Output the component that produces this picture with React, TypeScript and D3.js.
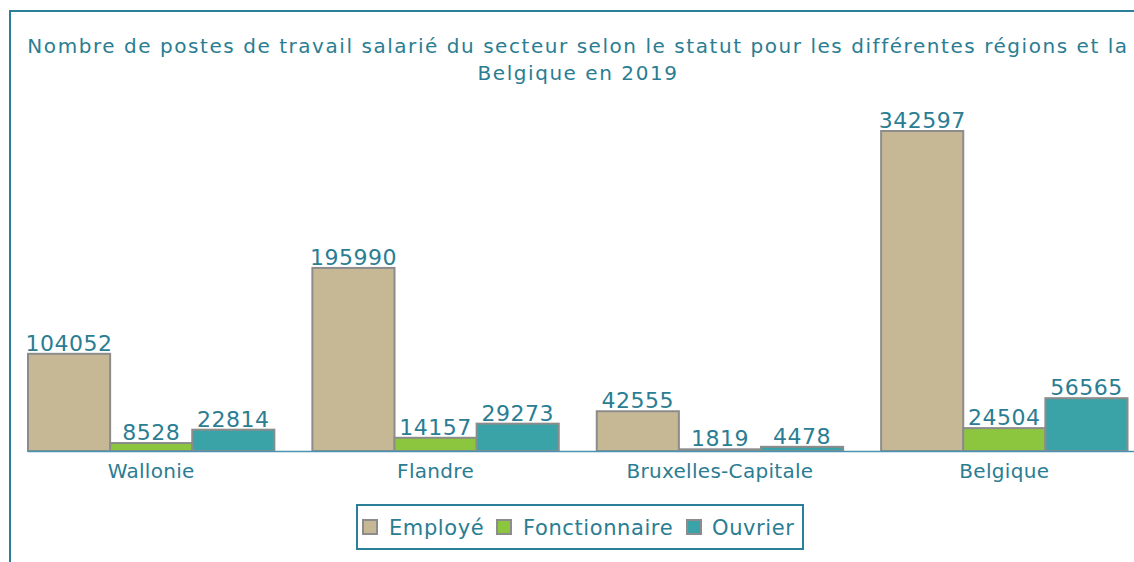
import React from "react";
import * as d3 from "d3";

const categories = ["Wallonie", "Flandre", "Bruxelles-Capitale", "Belgique"];
const seriesNames = ["Employé", "Fonctionnaire", "Ouvrier"];
const employe = [104052, 195990, 42555, 342597];
const fonctionnaire = [8528, 14157, 1819, 24504];
const ouvrier = [22814, 29273, 4478, 56565];
const seriesColors = ["#c6b894", "#8cc63e", "#3aa3a8"];
const titleLines = [
  "Nombre de postes de travail salarié du secteur selon le statut pour les différentes régions et la",
  "Belgique en 2019",
];

const W = 1134;
const H = 562;
const textColor = "#2a7d92";
const font = "'DejaVu Sans', sans-serif";

export default function App() {
  const series = [employe, fonctionnaire, ouvrier];
  const x = d3.scaleBand<string>().domain(categories).range([9, 1146.5]).paddingInner(0).paddingOuter(0);
  const bw = x.bandwidth();
  const xs = d3.scaleBand<string>().domain(seriesNames).range([19, bw - 19]).padding(0);
  const y = d3.scaleLinear().domain([0, 342597]).range([451, 131]);

  const legendItems = [
    { name: seriesNames[0], sx: 363, tx: 389 },
    { name: seriesNames[1], sx: 497, tx: 523 },
    { name: seriesNames[2], sx: 687, tx: 712 },
  ];

  return (
    <svg width={W} height={H} style={{ position: "absolute", left: 0, top: 0, background: "#fff" }}>
      <rect x={10} y={11} width={W + 20} height={H + 20} fill="#fff" stroke="#2b7f99" strokeWidth={2} />
      {titleLines.map((t, i) => (
        <text
          key={i}
          x={578}
          y={53 + i * 27}
          textAnchor="middle"
          fontFamily={font}
          fontSize={20}
          letterSpacing={1.55}
          fill={textColor}
        >
          {t}
        </text>
      ))}
      {categories.map((c, ci) =>
        seriesNames.map((s, si) => {
          const v = series[si][ci];
          const x0 = (x(c) as number) + (xs(s) as number);
          return (
            <g key={c + s}>
              <rect
                x={x0}
                y={y(v)}
                width={xs.bandwidth()}
                height={y(0) - y(v)}
                fill={seriesColors[si]}
                stroke="#8c8c8c"
                strokeWidth={2}
              />
              <text
                x={x0 + xs.bandwidth() / 2}
                y={y(v) - 3}
                textAnchor="middle"
                fontFamily={font}
                fontSize={22}
                fill={textColor}
                letterSpacing={0.5}
              >
                {v}
              </text>
            </g>
          );
        })
      )}
      <line x1={28} x2={W} y1={451.5} y2={451.5} stroke="#4a93b0" strokeWidth={1.5} />
      {categories.map((c) => (
        <text
          key={c}
          x={(x(c) as number) + bw / 2}
          y={478}
          textAnchor="middle"
          fontFamily={font}
          fontSize={20}
          letterSpacing={0.3}
          fill={textColor}
        >
          {c}
        </text>
      ))}
      <rect x={357} y={505} width={446} height={44} fill="#fff" stroke="#2b7f99" strokeWidth={2} />
      {legendItems.map((it, i) => (
        <g key={it.name}>
          <rect x={it.sx} y={520} width={14} height={14} fill={seriesColors[i]} stroke="#8c8c8c" strokeWidth={2} />
          <text x={it.tx} y={535} fontFamily={font} fontSize={21} letterSpacing={0.6} fill={textColor}>
            {it.name}
          </text>
        </g>
      ))}
    </svg>
  );
}
